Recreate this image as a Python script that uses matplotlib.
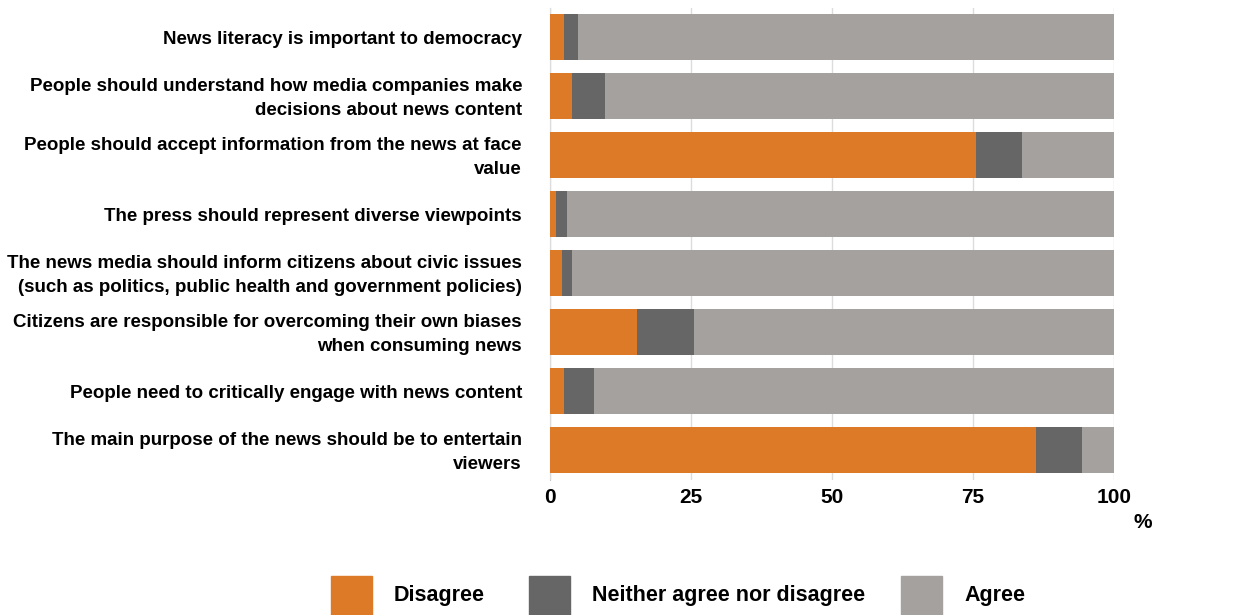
import matplotlib
matplotlib.use('Agg')
import matplotlib.pyplot as plt
import matplotlib.transforms as mtransforms
from matplotlib.patches import Rectangle
import numpy as np

plt.rcParams['font.family'] = ['Liberation Sans', 'DejaVu Sans']
plt.rcParams['font.weight'] = 'bold'

W, H = 1243, 615

statements = [
    'News literacy is important to democracy',
    'People should understand how media companies make\ndecisions about news content',
    'People should accept information from the news at face\nvalue',
    'The press should represent diverse viewpoints',
    'The news media should inform citizens about civic issues\n(such as politics, public health and government policies)',
    'Citizens are responsible for overcoming their own biases\nwhen consuming news',
    'People need to critically engage with news content',
    'The main purpose of the news should be to entertain\nviewers',
]
disagree = [2.5, 3.9, 75.5, 1.1, 2.1, 15.4, 2.5, 86.2]
neither = [2.5, 5.9, 8.2, 2.0, 1.8, 10.1, 5.3, 8.2]
agree = [95.0, 90.2, 16.3, 96.9, 96.1, 74.5, 92.2, 5.6]
ticks = [0, 25, 50, 75, 100]

colors = ['#dd7a28', '#666666', '#a5a19f']
names = ['Disagree', 'Neither agree nor disagree', 'Agree']

fig = plt.figure(figsize=(W / 100, H / 100), dpi=100)
ax = fig.add_axes([550 / W, 1 - 479.5 / H, 564 / W, 472 / H])

y = np.arange(len(statements))
left = np.zeros(len(statements))
for vals, col, name in zip([disagree, neither, agree], colors, names):
    ax.barh(y, vals, left=left, height=0.78, color=col, label=name, zorder=3)
    left += np.array(vals)

ax.set_xlim(0, 100)
ax.set_ylim(len(statements) - 0.5, -0.5)
ax.set_yticks(y)
ax.set_yticklabels([])

# category labels, right-aligned against the axis, nudged down slightly
lbl_trans = ax.get_yaxis_transform() + mtransforms.ScaledTranslation(
    -28 / 100, -2.5 / 100, fig.dpi_scale_trans)
for yi, text in zip(y, statements):
    ax.text(0, yi, text, transform=lbl_trans, ha='right', va='center',
            fontsize=13.5, fontweight='bold', linespacing=1.55)

ax.set_xticks(ticks)
ax.set_xticklabels([str(t) for t in ticks], fontsize=15, fontweight='bold')
ax.tick_params(length=0)
ax.tick_params(axis='x', pad=6)
ax.xaxis.grid(True, color='#dcdcdc', linewidth=1, zorder=0)
for s in ['top', 'right', 'bottom']:
    ax.spines[s].set_visible(False)
ax.spines['left'].set_color('#c8c8c8')
ax.spines['left'].set_zorder(1)

fig.text(1143 / W, 1 - 522 / H, '%', fontsize=15, fontweight='bold',
         ha='center', va='center')

# legend row along the bottom
key_x = [331, 529, 901]
for kx, col, name in zip(key_x, colors, names):
    fig.patches.append(Rectangle((kx / W, 1 - 615 / H), 41 / W, 39 / H,
                                 color=col, transform=fig.transFigure))
    fig.text((kx + 63) / W, 1 - 595 / H, name, fontsize=15.5, fontweight='bold',
             ha='left', va='center')

fig.savefig('out.png', dpi=100)
